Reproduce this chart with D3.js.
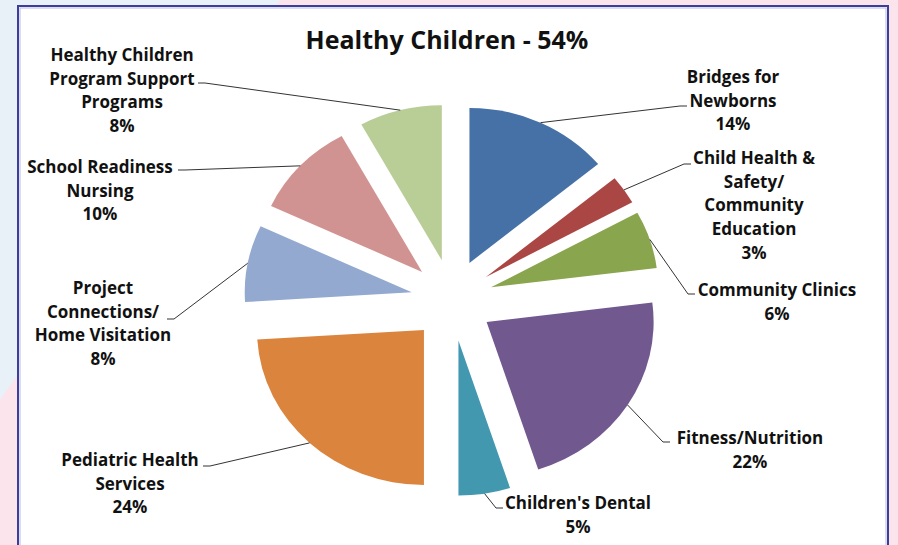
<!DOCTYPE html>
<html>
<head>
<meta charset="utf-8">
<script src="https://cdn.jsdelivr.net/npm/d3@7"></script>
<style>
  body { margin: 0; background: #fce4ec; }
  svg { display: block; }
</style>
</head>
<body>
<svg id="chart"></svg>
<script>
// pie data, clockwise from 12 o'clock
var categories = ["Bridges for\nNewborns", "Child Health &\nSafety/\nCommunity\nEducation", "Community Clinics",
  "Fitness/Nutrition", "Children's Dental", "Pediatric Health\nServices", "Project\nConnections/\nHome Visitation",
  "School Readiness\nNursing", "Healthy Children\nProgram Support\nPrograms"];
var percents = [14, 3, 6, 22, 5, 24, 8, 10, 8];
var colors = ["#4571a7", "#aa4643", "#89a54e", "#71588f", "#4298af", "#db843d", "#93a9cf", "#d19392", "#b9cd96"];
var title = "Healthy Children - 54%";

var width = 898
var height = 545

// label placement: text centre x, first line centre y, leader end point, tick direction
var labelPos = [
  {x: 733, y: 77, ex: 687, ey: 106, dir: 1},
  {x: 754, y: 158, ex: 691, ey: 164, dir: 1},
  {x: 777, y: 290, ex: 695, ey: 294, dir: 1},
  {x: 750, y: 438, ex: 670, ey: 442, dir: 1},
  {x: 578, y: 503, ex: 503, ey: 508, dir: 1},
  {x: 130, y: 460, ex: 203, ey: 466, dir: -1},
  {x: 103, y: 288, ex: 167, ey: 319, dir: -1},
  {x: 100, y: 167, ex: 178, ey: 170, dir: -1},
  {x: 122, y: 55, ex: 198, ey: 83, dir: -1}
];

var svg = d3.select("#chart")
  .attr("width", width)
  .attr("height", height);

// background pieces outside the frame
svg.append("polygon")
  .attr("points", "0,0 280,0 0,400")
  .attr("fill", "#e8f0f8");

svg.append("rect")
  .attr("x", 18)
  .attr("y", 6)
  .attr("width", 870)
  .attr("height", 560)
  .attr("fill", "white")
  .attr("stroke", "#3d3d9e")
  .attr("stroke-width", 2);

svg.append("rect")
  .attr("x", 20)
  .attr("y", 8)
  .attr("width", 866)
  .attr("height", 560)
  .attr("fill", "none")
  .attr("stroke", "#b9b9e0")
  .attr("stroke-width", 1);

svg.append("text")
  .attr("x", 447)
  .attr("y", 49)
  .style("text-anchor", "middle")
  .style("font-family", "'Open Sans', sans-serif")
  .style("font-weight", "700")
  .style("font-size", "25px")
  .style("fill", "#111")
  .text(title);

var cx = 452
var cy = 300
var r = 155
var sx = 167 / 155
var explode = 41

var pie = d3.pie()
  .sort(null)
  .value(function(d) { return d; });

var arc = d3.arc()
  .innerRadius(0)
  .outerRadius(r);

var arcs = pie(percents);

function midAngle(d) { return (d.startAngle + d.endAngle) / 2; }

var slices = svg.selectAll(".slice")
  .data(arcs)
  .enter()
  .append("g")
  .attr("class", "slice")
  .attr("transform", function(d) {
    var a = midAngle(d);
    return "translate(" + (cx + explode * Math.sin(a)) + "," + (cy - explode * Math.cos(a)) + ") scale(" + sx + ",1)";
  });

slices.append("path")
  .attr("d", arc)
  .attr("fill", function(d, i) { return colors[i]; });

// leader lines from the slice rim to the labels
svg.selectAll(".leader")
  .data(arcs)
  .enter()
  .append("polyline")
  .attr("class", "leader")
  .attr("fill", "none")
  .attr("stroke", "#333")
  .attr("stroke-width", 1)
  .attr("points", function(d, i) {
    var a = midAngle(d);
    var px = cx + explode * Math.sin(a) + sx * r * Math.sin(a);
    var py = cy - explode * Math.cos(a) - r * Math.cos(a);
    var p = labelPos[i];
    return px + "," + py + " " + (p.ex - 7 * p.dir) + "," + p.ey + " " + p.ex + "," + p.ey;
  });

var labels = svg.selectAll(".label")
  .data(arcs)
  .enter()
  .append("text")
  .attr("class", "label")
  .style("text-anchor", "middle")
  .style("font-family", "'Open Sans', sans-serif")
  .style("font-weight", "700")
  .style("font-size", "17px")
  .style("fill", "#111");

labels.each(function(d, i) {
  var lines = categories[i].split("\n").concat([percents[i] + "%"]);
  var p = labelPos[i];
  d3.select(this).selectAll("tspan")
    .data(lines)
    .enter()
    .append("tspan")
    .attr("x", p.x)
    .attr("y", function(t, j) { return p.y + 6 + j * 23.7; })
    .text(function(t) { return t; });
});
</script>
</body>
</html>
